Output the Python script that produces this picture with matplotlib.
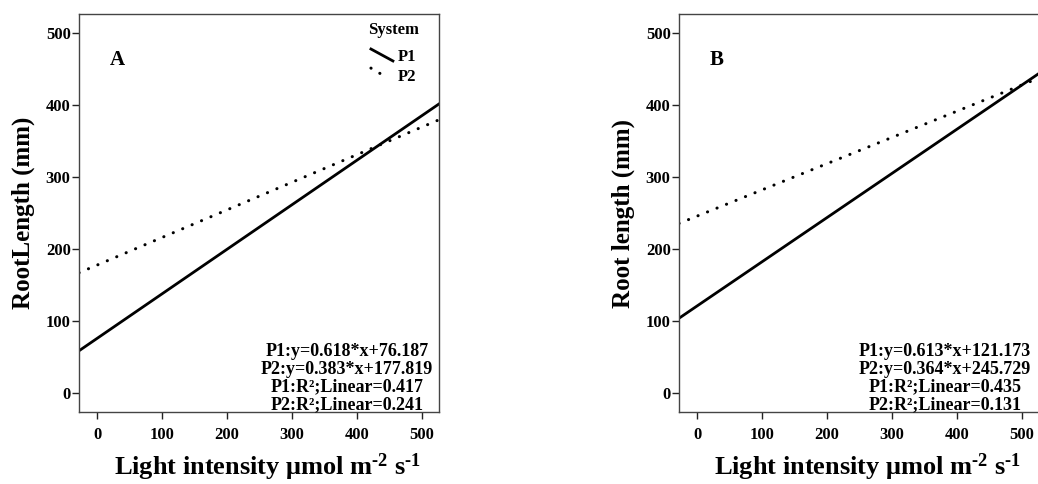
import numpy as np
import matplotlib
matplotlib.use("Agg")
import matplotlib.pyplot as plt

plt.rcParams['font.family'] = ['Liberation Serif', 'DejaVu Serif']
plt.rcParams['font.weight'] = 'bold'
plt.rcParams['mathtext.fontset'] = 'custom'
plt.rcParams['mathtext.rm'] = 'Liberation Serif:bold'
plt.rcParams['mathtext.bf'] = 'Liberation Serif:bold'
plt.rcParams['mathtext.it'] = 'Liberation Serif:bold'

# Data
systems = ["P1", "P2"]
slopes_A = [0.618, 0.383]
intercepts_A = [76.187, 177.819]
r2_A = [0.417, 0.241]
slopes_B = [0.613, 0.364]
intercepts_B = [121.173, 245.729]
r2_B = [0.435, 0.131]
xticks = [0, 100, 200, 300, 400, 500]
yticks = [0, 100, 200, 300, 400, 500]
xlim = (-28, 526)
ylim = (-26, 526)

W, H = 1038, 484
fig = plt.figure(figsize=(W / 100, H / 100), dpi=100)

def px_axes(l, t, r, b):
    return fig.add_axes([l / W, 1 - b / H, (r - l) / W, (b - t) / H])

styles = [dict(linestyle='-', linewidth=2.0, color='black'),
          dict(linestyle=(0, (0.05, 3.3)), linewidth=2.2, color='black', dash_capstyle='round')]

XLABEL = 'Light intensity μmol m$^{\\mathbf{\u20102}}$ s$^{\\mathbf{\u20101}}$'

def panel(ax, slopes, intercepts, r2, letter, ylabel, annx, show_legend):
    xs = np.array(xlim)
    for s, c, st in zip(slopes, intercepts, styles):
        ax.plot(xs, s * xs + c, **st)
    ax.set_xlim(*xlim)
    ax.set_ylim(*ylim)
    ax.set_xticks(xticks)
    ax.set_yticks(yticks)
    ax.tick_params(direction='out', length=5, width=1, labelsize=12, colors='#222222')
    ax.tick_params(axis='y', pad=1.0)
    ax.tick_params(axis='x', pad=6)
    for lab in ax.get_xticklabels() + ax.get_yticklabels():
        lab.set_fontweight('bold')
        lab.set_color('black')
    for sp in ax.spines.values():
        sp.set_linewidth(1.0)
        sp.set_color('#444444')
    ax.set_ylabel(ylabel, fontsize=18, fontweight='bold')
    ax.set_xlabel(XLABEL, fontsize=19, fontweight='bold')
    ax.text(0.085, 0.885, letter, transform=ax.transAxes, fontsize=15, fontweight='bold',
            ha='left', va='center')
    lines = [f"{systems[0]}:y={slopes[0]:.3f}*x+{intercepts[0]:.3f}",
             f"{systems[1]}:y={slopes[1]:.3f}*x+{intercepts[1]:.3f}",
             f"{systems[0]}:R²;Linear={r2[0]:.3f}",
             f"{systems[1]}:R²;Linear={r2[1]:.3f}"]
    ax.text(annx, -0.002, "\n".join(lines), transform=ax.transAxes, fontsize=13,
            fontweight='bold', ha='center', va='bottom', linespacing=1.04)
    if show_legend:
        ax.text(0.875, 0.96, "System", transform=ax.transAxes, fontsize=12,
                fontweight='bold', ha='center', va='center')
        ax.plot([0.811, 0.872], [0.912, 0.882], transform=ax.transAxes, **styles[0])
        ax.plot([0.811, 0.858], [0.864, 0.839], transform=ax.transAxes, **styles[1])
        ax.text(0.885, 0.892, systems[0], transform=ax.transAxes, fontsize=12,
                fontweight='bold', ha='left', va='center')
        ax.text(0.885, 0.842, systems[1], transform=ax.transAxes, fontsize=12,
                fontweight='bold', ha='left', va='center')

axA = px_axes(79, 14, 439, 412)
panel(axA, slopes_A, intercepts_A, r2_A, 'A', 'RootLength (mm)', 0.744, True)
axA.xaxis.set_label_coords(0.525, -0.1)
axA.yaxis.set_label_coords(-0.122, 0.5)

axB = px_axes(679, 14, 1039, 412)
panel(axB, slopes_B, intercepts_B, r2_B, 'B', 'Root length (mm)', 0.739, False)
axB.xaxis.set_label_coords(0.525, -0.1)
axB.yaxis.set_label_coords(-0.122, 0.5)

fig.savefig("out.png", dpi=100)
